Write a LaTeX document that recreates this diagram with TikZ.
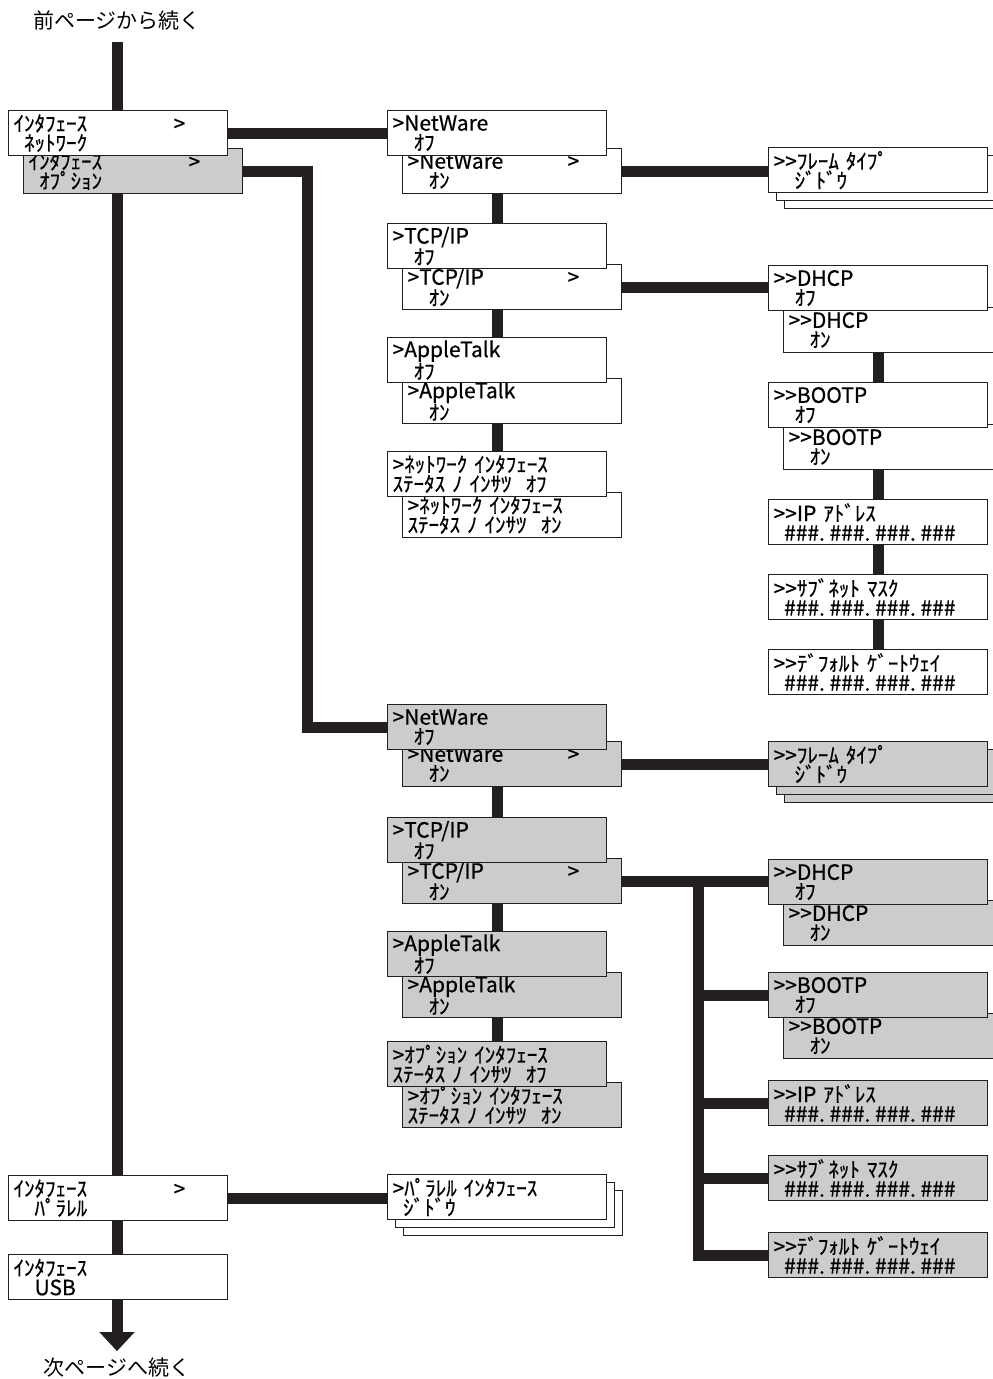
\documentclass[tikz,border=0pt]{standalone}
\usepackage{fontspec}
\usepackage{xcolor}
\usetikzlibrary{arrows.meta,backgrounds}
\setmainfont{Noto Sans CJK JP}
\newfontfamily\lcdfont[WordSpace=2.23,FakeBold=0.6]{Noto Sans CJK JP}
\definecolor{ink}{HTML}{231F20}
\definecolor{panel}{HTML}{CCCCCC}
\newcommand\more[1]{\makebox[160pt][l]{#1}>}
\newcommand\gap[1]{\hspace*{#1\dimexpr.5em\relax}}
\newcommand\dt{\makebox[.5em][l]{.}}
\newcommand\addr{\#\#\#\dt\#\#\#\dt\#\#\#\dt\#\#\#}

\begin{document}
\begin{tikzpicture}[x=1pt,y=-1pt,
  lcd/.style={draw=ink,line width=1.2pt,fill=white,anchor=north west,minimum width=219pt,minimum height=45pt,
    inner xsep=5pt,inner ysep=0pt,text width=209pt,align=left,font=\lcdfont\fontsize{21}{19.5}\selectfont},
  lcdg/.style={lcd,fill=panel},
  wire/.style={ink,line width=11pt},
  note/.style={inner sep=0pt,font=\fontsize{21}{21}\selectfont}]
  \useasboundingbox (0,0) rectangle (993,1379);
  \clip (0,0) rectangle (993,1379);
  \node[note] (prev) at (117,20) {前ページから続く};
  \node[note] (next) at (117,1368) {次ページへ続く};
  % left column
  \node[lcdg] (optB) at (23,148) {\more{ｲﾝﾀﾌｪｰｽ}\\\gap{1}ｵﾌﾟｼｮﾝ};
  \node[lcd] (netA) at (8,110) {\more{ｲﾝﾀﾌｪｰｽ}\\\gap{1}ﾈｯﾄﾜｰｸ};
  \node[lcd] (par) at (8,1175) {\more{ｲﾝﾀﾌｪｰｽ}\\\gap{2}ﾊﾟﾗﾚﾙ};
  \node[lcd] (usb) at (8,1254) {ｲﾝﾀﾌｪｰｽ\\\gap{2}USB};
  % network interface
  \node[lcd] (nwOn) at (402,148) {\more{>NetWare}\\\gap{2}ｵﾝ};
  \node[lcd] (nwOff) at (387,110) {>NetWare\\\gap{2}ｵﾌ};
  \node[lcd] (tcpOn) at (402,264) {\more{>TCP/IP}\\\gap{2}ｵﾝ};
  \node[lcd] (tcpOff) at (387,223) {>TCP/IP\\\gap{2}ｵﾌ};
  \node[lcd] (atOn) at (402,378) {>AppleTalk\\\gap{2}ｵﾝ};
  \node[lcd] (atOff) at (387,337) {>AppleTalk\\\gap{2}ｵﾌ};
  \node[lcd] (nstOn) at (402,492) {>ﾈｯﾄﾜｰｸ ｲﾝﾀﾌｪｰｽ\\ｽﾃｰﾀｽ ﾉ ｲﾝｻﾂ~~ｵﾝ};
  \node[lcd] (nstOff) at (387,451) {>ﾈｯﾄﾜｰｸ ｲﾝﾀﾌｪｰｽ\\ｽﾃｰﾀｽ ﾉ ｲﾝｻﾂ~~ｵﾌ};
  \node[lcd] (frame3) at (784,163) {};
  \node[lcd] (frame2) at (776,155) {};
  \node[lcd] (frame) at (768,147) {>>ﾌﾚｰﾑ ﾀｲﾌﾟ\\\gap{2}ｼﾞﾄﾞｳ};
  \node[lcd] (dhcpOn) at (783,307) {>>DHCP\\\gap{2}ｵﾝ};
  \node[lcd] (dhcpOff) at (768,265) {>>DHCP\\\gap{2}ｵﾌ};
  \node[lcd] (bootpOn) at (783,424) {>>BOOTP\\\gap{2}ｵﾝ};
  \node[lcd] (bootpOff) at (768,382) {>>BOOTP\\\gap{2}ｵﾌ};
  \node[lcd] (ip) at (768,499) {>>IP ｱﾄﾞﾚｽ\\\gap{1}\addr};
  \node[lcd] (sub) at (768,574) {>>ｻﾌﾞﾈｯﾄ ﾏｽｸ\\\gap{1}\addr};
  \node[lcd] (gw) at (768,649) {>>ﾃﾞﾌｫﾙﾄ ｹﾞｰﾄｳｪｲ\\\gap{1}\addr};
  % option interface
  \node[lcdg] (gnwOn) at (402,741) {\more{>NetWare}\\\gap{2}ｵﾝ};
  \node[lcdg] (gnwOff) at (387,704) {>NetWare\\\gap{2}ｵﾌ};
  \node[lcdg] (gtcpOn) at (402,858) {\more{>TCP/IP}\\\gap{2}ｵﾝ};
  \node[lcdg] (gtcpOff) at (387,817) {>TCP/IP\\\gap{2}ｵﾌ};
  \node[lcdg] (gatOn) at (402,972) {>AppleTalk\\\gap{2}ｵﾝ};
  \node[lcdg] (gatOff) at (387,931) {>AppleTalk\\\gap{2}ｵﾌ};
  \node[lcdg] (gostOn) at (402,1082) {>ｵﾌﾟｼｮﾝ ｲﾝﾀﾌｪｰｽ\\ｽﾃｰﾀｽ ﾉ ｲﾝｻﾂ~~ｵﾝ};
  \node[lcdg] (gostOff) at (387,1041) {>ｵﾌﾟｼｮﾝ ｲﾝﾀﾌｪｰｽ\\ｽﾃｰﾀｽ ﾉ ｲﾝｻﾂ~~ｵﾌ};
  \node[lcdg] (gframe3) at (784,757) {};
  \node[lcdg] (gframe2) at (776,749) {};
  \node[lcdg] (gframe) at (768,741) {>>ﾌﾚｰﾑ ﾀｲﾌﾟ\\\gap{2}ｼﾞﾄﾞｳ};
  \node[lcdg] (gdhcpOn) at (783,900) {>>DHCP\\\gap{2}ｵﾝ};
  \node[lcdg] (gdhcpOff) at (768,859) {>>DHCP\\\gap{2}ｵﾌ};
  \node[lcdg] (gbootpOn) at (783,1013) {>>BOOTP\\\gap{2}ｵﾝ};
  \node[lcdg] (gbootpOff) at (768,972) {>>BOOTP\\\gap{2}ｵﾌ};
  \node[lcdg] (gip) at (768,1080) {>>IP ｱﾄﾞﾚｽ\\\gap{1}\addr};
  \node[lcdg] (gsub) at (768,1155) {>>ｻﾌﾞﾈｯﾄ ﾏｽｸ\\\gap{1}\addr};
  \node[lcdg] (ggw) at (768,1232) {>>ﾃﾞﾌｫﾙﾄ ｹﾞｰﾄｳｪｲ\\\gap{1}\addr};
  % parallel
  \node[lcd] (ppar3) at (403,1190) {};
  \node[lcd] (ppar2) at (395,1182) {};
  \node[lcd] (ppar) at (387,1174) {>ﾊﾟﾗﾚﾙ ｲﾝﾀﾌｪｰｽ\\\gap{1}ｼﾞﾄﾞｳ};
  \begin{scope}[on background layer]
    \draw[wire,-{Triangle[width=34pt,length=19pt]},shorten <=12pt,shorten >=7pt] (prev) -- (next);
    \draw[wire] (netA) -- (nwOff);
    \draw[wire] (optB.east) -- ++(64,0) |- (gnwOff.west);
    \draw[wire] (nwOn.east) -- (nwOn.east -| frame.west);
    \draw[wire] (nwOff) -- (tcpOff) -- (atOff) -- (nstOff);
    \draw[wire] (tcpOn.east) -- (tcpOn.east -| dhcpOff.west);
    \draw[wire] (dhcpOff) -- (bootpOff) -- (ip) -- (sub) -- (gw);
    \draw[wire] (gnwOn.east) -- (gnwOn.east -| gframe.west);
    \draw[wire] (gnwOff) -- (gtcpOff) -- (gatOff) -- (gostOff);
    \draw[wire] (gtcpOn.east) -- (gtcpOn.east -| gdhcpOff.west);
    \draw[wire] (gtcpOn.east) ++(76,0) coordinate (branch) |- (ggw.west);
    \foreach \n in {gbootpOff,gip,gsub}
      \draw[wire] (branch |- \n.west) -- (\n.west);
    \draw[wire] (par.east) -- (par.east -| ppar.west);
  \end{scope}
\end{tikzpicture}
\end{document}
